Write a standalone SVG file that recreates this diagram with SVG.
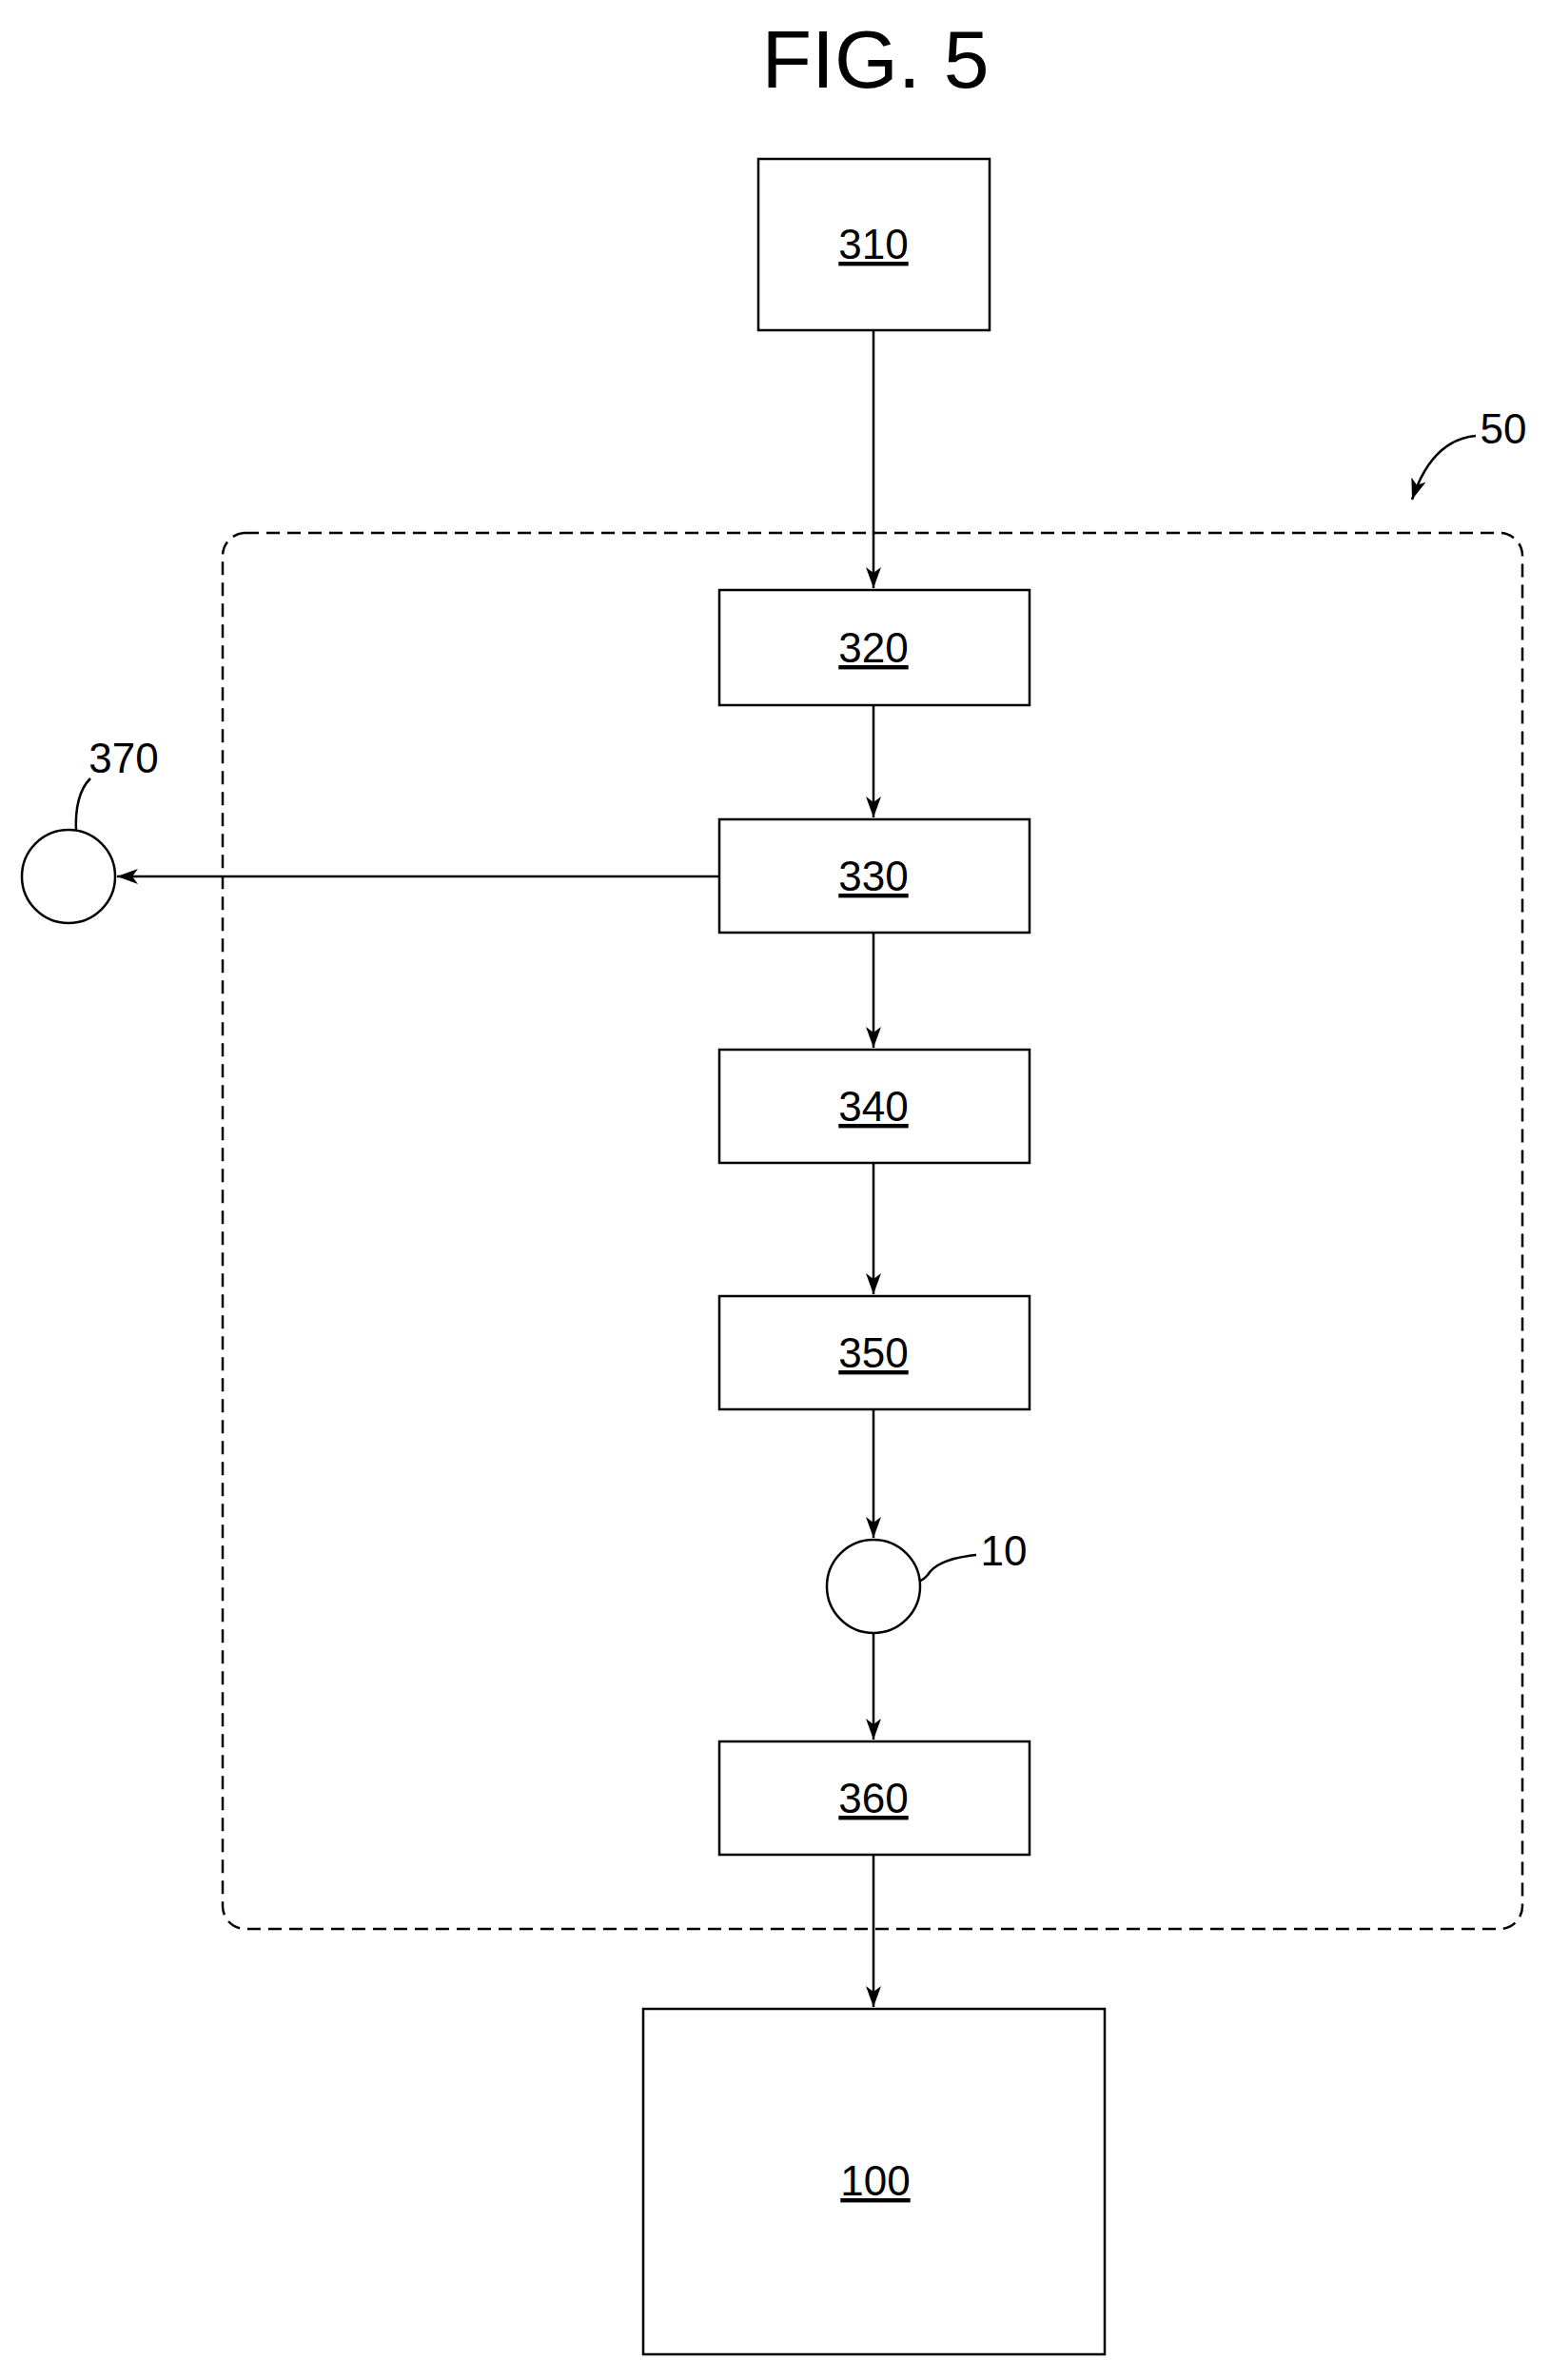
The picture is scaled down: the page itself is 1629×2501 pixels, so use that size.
<svg xmlns="http://www.w3.org/2000/svg" width="1629" height="2501" viewBox="0 0 1629 2501">
<style>
.b{fill:#fff;stroke:#000;stroke-width:2.5}
.t{font-family:"Liberation Sans",Arial,sans-serif;font-size:44px;text-anchor:middle;text-decoration:underline}
.l{font-family:"Liberation Sans",Arial,sans-serif;font-size:44px;text-anchor:middle}
.c{stroke:#000;stroke-width:2.5;fill:none}
</style>
<defs><marker id="a" markerWidth="24" markerHeight="16" refX="22" refY="8" orient="auto" markerUnits="userSpaceOnUse"><path d="M0,0 L22,8 L0,16 L6,8 Z" fill="#000"/></marker></defs>
<rect width="1629" height="2501" fill="#fff"/>
<text x="920" y="92" font-family="Liberation Sans,Arial,sans-serif" font-size="86" text-anchor="middle">FIG. 5</text>
<rect x="234" y="560" width="1366" height="1467" rx="24" fill="none" stroke="#000" stroke-width="2.5" stroke-dasharray="14,8"/>
<g id="connectors">
<line class="c" x1="918" y1="347" x2="918" y2="618" marker-end="url(#a)"/>
<line class="c" x1="918" y1="741" x2="918" y2="859" marker-end="url(#a)"/>
<line class="c" x1="918" y1="980" x2="918" y2="1101" marker-end="url(#a)"/>
<line class="c" x1="918" y1="1222" x2="918" y2="1360" marker-end="url(#a)"/>
<line class="c" x1="918" y1="1481" x2="918" y2="1616" marker-end="url(#a)"/>
<line class="c" x1="918" y1="1716" x2="918" y2="1828" marker-end="url(#a)"/>
<line class="c" x1="918" y1="1949" x2="918" y2="2109" marker-end="url(#a)"/>
<line class="c" x1="756" y1="921" x2="123" y2="921" marker-end="url(#a)"/>
<path class="c" d="M1551,458 Q1505,462 1484,525" marker-end="url(#a)"/>
<path class="c" d="M95,818 Q78,835 80,875"/>
<path class="c" d="M1026,1634 Q985,1638 975,1655 Q965,1667 939,1667"/>
</g>
<g id="n310"><rect class="b" x="797" y="167" width="243" height="180"/><text class="t" x="918" y="272">310</text></g>
<g id="n320"><rect class="b" x="756" y="620" width="326" height="121"/><text class="t" x="918" y="696">320</text></g>
<g id="n330"><rect class="b" x="756" y="861" width="326" height="119"/><text class="t" x="918" y="936">330</text></g>
<g id="n340"><rect class="b" x="756" y="1103" width="326" height="119"/><text class="t" x="918" y="1178">340</text></g>
<g id="n350"><rect class="b" x="756" y="1362" width="326" height="119"/><text class="t" x="918" y="1437">350</text></g>
<g id="n10"><circle class="b" cx="918" cy="1667" r="49"/><text class="l" x="1055" y="1645">10</text></g>
<g id="n360"><rect class="b" x="756" y="1830" width="326" height="119"/><text class="t" x="918" y="1905">360</text></g>
<g id="n100"><rect class="b" x="676" y="2111" width="485" height="363"/><text class="t" x="920" y="2307">100</text></g>
<g id="n370"><circle class="b" cx="72" cy="921" r="49"/><text class="l" x="130" y="812">370</text></g>
<g id="n50"><text class="l" x="1580" y="466">50</text></g>
</svg>
